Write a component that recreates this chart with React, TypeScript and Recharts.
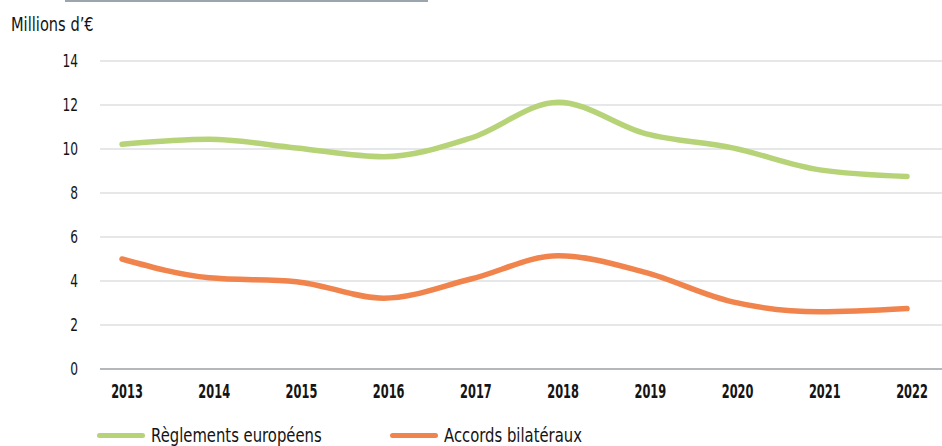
import { LineChart, Line, XAxis, YAxis, CartesianGrid } from "recharts";

const years = ["2013", "2014", "2015", "2016", "2017", "2018", "2019", "2020", "2021", "2022"];
const reglements = [10.22, 10.44, 10.05, 9.65, 10.5, 12.13, 10.7, 10.05, 9.05, 8.75];
const accords = [5.0, 4.15, 3.97, 3.22, 4.09, 5.15, 4.39, 3.05, 2.6, 2.75];
const yTicks = [0, 2, 4, 6, 8, 10, 12, 14];

const data = years.map((y, i) => ({
  year: y,
  reglements: reglements[i],
  accords: accords[i],
}));

const GREEN = "#b7d378";
const ORANGE = "#f0844c";
const INK = "#141414";
const FONT = "'DejaVu Sans', sans-serif";

const series = [
  { key: "reglements", name: "Règlements européens", color: GREEN, left: 97 },
  { key: "accords", name: "Accords bilatéraux", color: ORANGE, left: 390 },
];

// the original face is a narrow grotesque, so squeeze DejaVu horizontally
function XTick(props: any) {
  const { x, y, payload } = props;
  return (
    <text
      transform={`translate(${x + 5},${y + 29}) scale(0.6,1)`}
      textAnchor="middle"
      fill={INK}
      fontFamily={FONT}
      fontSize={19}
      fontWeight={700}
    >
      {payload.value}
    </text>
  );
}

function YTick(props: any) {
  const { x, y, payload } = props;
  return (
    <text
      transform={`translate(${x},${y}) scale(0.68,1)`}
      textAnchor="end"
      dy="0.36em"
      fill={INK}
      fontFamily={FONT}
      fontSize={18}
    >
      {payload.value}
    </text>
  );
}

const squeeze = (sx: number) => ({
  display: "inline-block",
  transform: `scaleX(${sx})`,
  transformOrigin: "left center",
  whiteSpace: "nowrap" as const,
});

export default function App() {
  return (
    <div style={{ position: "absolute", left: 0, top: 0, width: 942, height: 446, overflow: "hidden", background: "#fff" }}>
      <div style={{ position: "absolute", left: 65, top: 0, width: 363, height: 2, background: "#9aa5ad" }} />
      <div
        style={{
          position: "absolute",
          left: 11,
          top: 13,
          fontFamily: FONT,
          fontSize: 19,
          color: INK,
          ...squeeze(0.77),
        }}
      >
        Millions d’€
      </div>
      <LineChart width={942} height={446} data={data} margin={{ top: 61, right: 0, bottom: 47, left: 0 }}>
        <CartesianGrid vertical={false} stroke="#dcdfe0" strokeWidth={1.5} />
        <XAxis
          dataKey="year"
          padding={{ left: 22, right: 35 }}
          axisLine={{ stroke: "#b4b8bb", strokeWidth: 2 }}
          tickLine={false}
          tickSize={0}
          tickMargin={0}
          tick={<XTick />}
        />
        <YAxis
          width={100}
          domain={[0, 14]}
          ticks={yTicks}
          axisLine={false}
          tickLine={false}
          tickSize={0}
          tickMargin={22}
          tick={<YTick />}
        />
        {series.map((s) => (
          <Line
            key={s.key}
            type="monotone"
            dataKey={s.key}
            name={s.name}
            stroke={s.color}
            strokeWidth={5.5}
            strokeLinecap="round"
            dot={false}
            activeDot={false}
            isAnimationActive={false}
          />
        ))}
      </LineChart>
      {series.map((s) => (
        <div
          key={s.key}
          style={{ position: "absolute", left: s.left, top: 425, height: 20, display: "flex", alignItems: "center" }}
        >
          <div style={{ width: 48, height: 5, borderRadius: 3, background: s.color, marginRight: 6, flex: "none" }} />
          <span style={{ fontFamily: FONT, fontSize: 19, color: INK, lineHeight: "20px", ...squeeze(0.78) }}>
            {s.name}
          </span>
        </div>
      ))}
    </div>
  );
}
